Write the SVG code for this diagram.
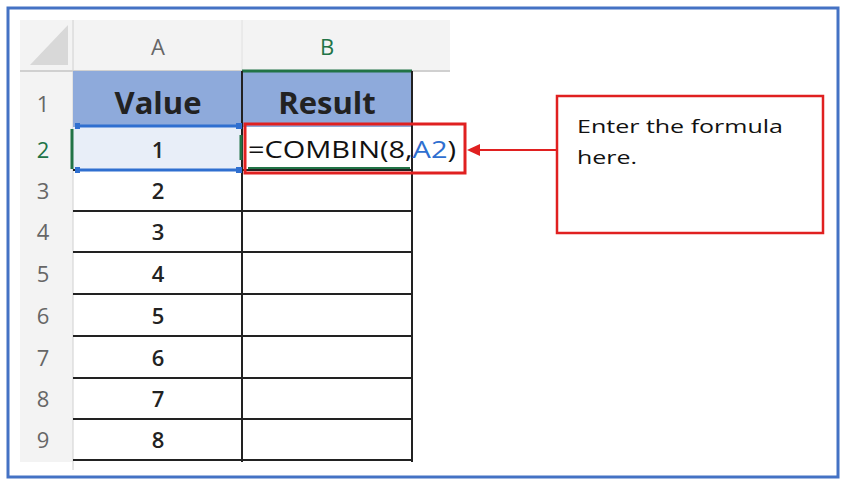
<svg xmlns="http://www.w3.org/2000/svg" width="848" height="487" viewBox="0 0 848 487">
<style>
.hd{font-family:"Open Sans","Liberation Sans",sans-serif;font-size:22px;fill:#666;text-anchor:middle}
.v{font-family:"Open Sans","Liberation Sans",sans-serif;font-size:22px;font-weight:600;fill:#222;text-anchor:middle}
.g{stroke:#222;stroke-width:2;fill:none}
.c{font-family:"Open Sans","Liberation Sans",sans-serif;font-size:19px;fill:#111}
</style>
<rect width="848" height="487" fill="#fff"/>
<rect x="8" y="8" width="830" height="469" fill="none" stroke="#4472c4" stroke-width="3"/>
<g id="sheet">
<rect x="20" y="20" width="430" height="50" fill="#f3f3f3"/>
<rect x="20" y="70" width="53" height="392" fill="#f3f3f3"/>
<polygon points="68,25 68,65 30,65" fill="#d8d8d8"/>
<line x1="73" y1="20" x2="73" y2="470" stroke="#d0d0d0"/>
<line x1="20" y1="71" x2="450" y2="71" stroke="#d0d0d0" stroke-width="2"/>
<line x1="242" y1="20" x2="242" y2="70" stroke="#e0e0e0"/>
<text class="hd" x="158" y="55">A</text>
<text class="hd" x="327" y="55" style="fill:#217346">B</text>
<rect x="73" y="71" width="339" height="56" fill="#8eaadb"/>
<rect x="73" y="127" width="169" height="43" fill="#e8eef8"/>
<line x1="242" y1="71" x2="412" y2="71" stroke="#217346" stroke-width="3"/>
<text class="v" x="158" y="114" style="font-size:31px;font-weight:700">Value</text>
<text class="v" x="327" y="114" style="font-size:31px;font-weight:700">Result</text>
<g class="g">
<line x1="242" y1="71" x2="242" y2="462"/>
<line x1="412" y1="71" x2="412" y2="462"/>
<line x1="73" y1="170" x2="412" y2="170"/>
<line x1="73" y1="211" x2="412" y2="211"/>
<line x1="73" y1="252" x2="412" y2="252"/>
<line x1="73" y1="294" x2="412" y2="294"/>
<line x1="73" y1="336" x2="412" y2="336"/>
<line x1="73" y1="378" x2="412" y2="378"/>
<line x1="73" y1="419" x2="412" y2="419"/>
<line x1="73" y1="460" x2="412" y2="460"/>
</g>
<line x1="78" y1="126" x2="238" y2="126" stroke="#2f6fd0" stroke-width="3"/>
<line x1="78" y1="170" x2="238" y2="170" stroke="#2f6fd0" stroke-width="3"/>
<rect x="75" y="123" width="5" height="6" fill="#2f6fd0"/><rect x="236" y="123" width="6" height="6" fill="#2f6fd0"/>
<rect x="75" y="167" width="5" height="6" fill="#2f6fd0"/><rect x="236" y="167" width="6" height="6" fill="#2f6fd0"/>
<line x1="72" y1="129" x2="72" y2="169" stroke="#217346" stroke-width="3"/>
<line x1="241" y1="135" x2="241" y2="160" stroke="#217346" stroke-width="3"/>
<line x1="248" y1="168" x2="410" y2="168" stroke="#217346" stroke-width="2"/>
<text class="hd" x="43" y="112">1</text>
<text class="hd" x="43" y="158" style="fill:#217346">2</text>
<text class="hd" x="43" y="199">3</text>
<text class="hd" x="43" y="240">4</text>
<text class="hd" x="43" y="282">5</text>
<text class="hd" x="43" y="324">6</text>
<text class="hd" x="43" y="366">7</text>
<text class="hd" x="43" y="407">8</text>
<text class="hd" x="43" y="448">9</text>
<text class="v" x="158" y="158">1</text>
<text class="v" x="158" y="199">2</text>
<text class="v" x="158" y="240">3</text>
<text class="v" x="158" y="282">4</text>
<text class="v" x="158" y="324">5</text>
<text class="v" x="158" y="366">6</text>
<text class="v" x="158" y="407">7</text>
<text class="v" x="158" y="448">8</text>
<text x="248" y="158" textLength="208" lengthAdjust="spacingAndGlyphs" style="font-family:'Open Sans','Liberation Sans',sans-serif;font-size:24px;fill:#111">=COMBIN(8,<tspan fill="#2f6fd0">A2</tspan>)</text>
</g>
<g id="highlight"><rect x="245" y="124" width="220" height="49" fill="none" stroke="#e02020" stroke-width="3"/></g>
<g id="callout">
<rect x="557" y="96" width="266" height="137" fill="#fff" stroke="#e02020" stroke-width="2.5"/>
<text class="c" x="577" y="133" textLength="206" lengthAdjust="spacingAndGlyphs">Enter the formula</text>
<text class="c" x="577" y="164" textLength="60" lengthAdjust="spacingAndGlyphs">here.</text>
</g>
<g id="connectors">
<line x1="557" y1="150" x2="478" y2="150" stroke="#e02020" stroke-width="2"/>
<polygon points="467,150 480,144 480,156" fill="#e02020"/>
</g>
</svg>
